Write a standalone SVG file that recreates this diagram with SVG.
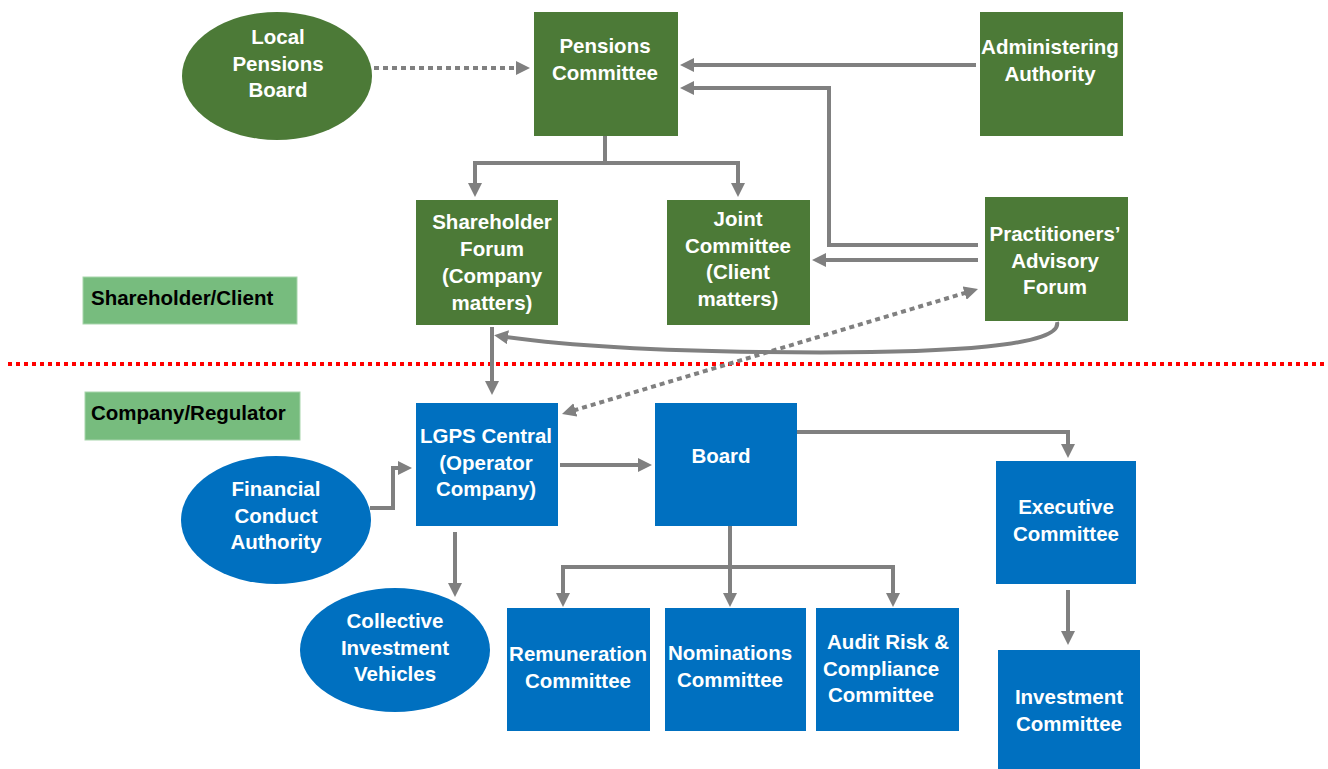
<svg xmlns="http://www.w3.org/2000/svg" width="1328" height="769" viewBox="0 0 1328 769">
<style>
.g{fill:#4c7a37}
.b{fill:#0070c0}
.lab{fill:#77bc7e;stroke:#a8d5ac;stroke-width:1}
.t{font-family:"Liberation Sans",Arial,sans-serif;font-weight:bold;font-size:20.5px;fill:#fff;text-anchor:middle}
.k{font-family:"Liberation Sans",Arial,sans-serif;font-weight:bold;font-size:20.5px;fill:#000}
.c{fill:none;stroke:#808080;stroke-width:4}
.a{marker-end:url(#ah)}
.d{stroke-dasharray:5 4}
</style>
<defs>
<marker id="ah" markerUnits="userSpaceOnUse" markerWidth="14" markerHeight="14" viewBox="0 0 14 14" refX="2" refY="7" orient="auto-start-reverse">
<path d="M0,0 L14,7 L0,14 z" fill="#808080"/>
</marker>
</defs>
<rect width="1328" height="769" fill="#fff"/>
<line x1="8" y1="364" x2="1328" y2="364" stroke="#ff0000" stroke-width="4" stroke-dasharray="4 4"/>
<g id="connectors">
<path class="c a d" d="M374,68 H518"/>
<path class="c a" d="M976,65 H692"/>
<path class="c a" d="M978,245 H829 V88 H692"/>
<path class="c a" d="M978,260 H824"/>
<path class="c" d="M605,136 V163 M475,163 H738"/>
<path class="c a" d="M475,161 V185"/>
<path class="c a" d="M738,161 V185"/>
<path class="c a" d="M1057,322 Q1065,356 760,352 Q600,350 506,337"/>
<path class="c a d" d="M573.5,410.5 L966.5,292.5" marker-start="url(#ah)"/>
<path class="c a" d="M492,327 V383"/>
<path class="c a" d="M560,465 H640"/>
<path class="c a" d="M797,432 H1068 V446"/>
<path class="c a" d="M1068,590 V633"/>
<path class="c a" d="M730,526 V595"/>
<path class="c" d="M561,567 H895"/>
<path class="c a" d="M563,565 V595"/>
<path class="c a" d="M893,565 V595"/>
<path class="c a" d="M370,508 H393 V468 H400"/>
<path class="c a" d="M455,532 V585"/>
</g>
<g id="lbl-shareholder"><rect class="lab" x="83" y="277" width="214" height="47"/><text class="k" x="91" y="305">Shareholder/Client</text></g>
<g id="lbl-company"><rect class="lab" x="85" y="392" width="215" height="48"/><text class="k" x="91" y="420">Company/Regulator</text></g>
<g id="local-pensions-board"><ellipse class="g" cx="277" cy="76" rx="95" ry="64"/><text class="t" x="278" y="44">Local</text><text class="t" x="278" y="71">Pensions</text><text class="t" x="278" y="97">Board</text></g>
<g id="pensions-committee"><rect class="g" x="534" y="12" width="144" height="124"/><text class="t" x="605" y="53">Pensions</text><text class="t" x="605" y="80">Committee</text></g>
<g id="administering-authority"><rect class="g" x="980" y="12" width="143" height="124"/><text class="t" x="1050" y="54">Administering</text><text class="t" x="1050" y="81">Authority</text></g>
<g id="shareholder-forum"><rect class="g" x="416" y="200" width="142" height="125"/><text class="t" x="492" y="229">Shareholder</text><text class="t" x="492" y="256">Forum</text><text class="t" x="492" y="283">(Company</text><text class="t" x="492" y="310">matters)</text></g>
<g id="joint-committee"><rect class="g" x="667" y="200" width="143" height="125"/><text class="t" x="738" y="226">Joint</text><text class="t" x="738" y="253">Committee</text><text class="t" x="738" y="279">(Client</text><text class="t" x="738" y="306">matters)</text></g>
<g id="practitioners-advisory-forum"><rect class="g" x="985" y="197" width="143" height="124"/><text class="t" x="1055" y="241">Practitioners’</text><text class="t" x="1055" y="268">Advisory</text><text class="t" x="1055" y="294">Forum</text></g>
<g id="lgps-central"><rect class="b" x="416" y="403" width="142" height="123"/><text class="t" x="486" y="443">LGPS Central</text><text class="t" x="486" y="470">(Operator</text><text class="t" x="486" y="496">Company)</text></g>
<g id="board"><rect class="b" x="655" y="403" width="142" height="123"/><text class="t" x="721" y="463">Board</text></g>
<g id="fca"><ellipse class="b" cx="276" cy="520" rx="95" ry="64"/><text class="t" x="276" y="496">Financial</text><text class="t" x="276" y="523">Conduct</text><text class="t" x="276" y="549">Authority</text></g>
<g id="civ"><ellipse class="b" cx="395" cy="650" rx="95" ry="62"/><text class="t" x="395" y="628">Collective</text><text class="t" x="395" y="655">Investment</text><text class="t" x="395" y="681">Vehicles</text></g>
<g id="executive-committee"><rect class="b" x="996" y="461" width="140" height="123"/><text class="t" x="1066" y="514">Executive</text><text class="t" x="1066" y="541">Committee</text></g>
<g id="investment-committee"><rect class="b" x="998" y="650" width="142" height="125"/><text class="t" x="1069" y="704">Investment</text><text class="t" x="1069" y="731">Committee</text></g>
<g id="remuneration-committee"><rect class="b" x="507" y="608" width="143" height="123"/><text class="t" x="578" y="661">Remuneration</text><text class="t" x="578" y="688">Committee</text></g>
<g id="nominations-committee"><rect class="b" x="665" y="608" width="141" height="123"/><text class="t" x="730" y="660">Nominations</text><text class="t" x="730" y="687">Committee</text></g>
<g id="audit-committee"><rect class="b" x="816" y="608" width="143" height="123"/><text class="t" x="888" y="649">Audit Risk &amp;</text><text class="t" x="881" y="676">Compliance</text><text class="t" x="881" y="702">Committee</text></g>
</svg>
